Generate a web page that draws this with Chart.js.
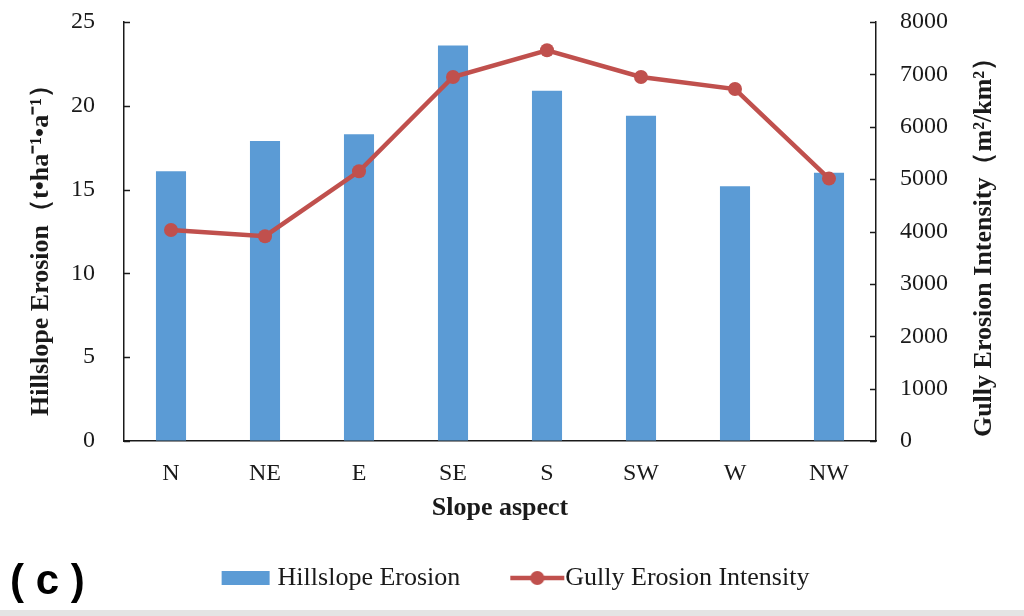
<!DOCTYPE html>
<html>
<head>
  <meta charset="UTF-8" />
  <title>Erosion by slope aspect</title>
  <script src="https://cdn.jsdelivr.net/npm/chart.js"></script>
  <style>
    html, body { margin: 0; padding: 0; background: #fff; }
    body { width: 1024px; height: 616px; position: relative; overflow: hidden; }
    .wrap { position: absolute; left: 0; top: 0; width: 1024px; height: 610px; }
    .panel { position: absolute; left: 10px; top: 556px; font: bold 42px "Liberation Sans", sans-serif; color: #000; }
    .strip { position: absolute; left: 0; top: 610px; width: 1024px; height: 6px; background: #e4e4e4; }
  </style>
</head>
<body>
  <div class="wrap"><canvas id="chart"></canvas></div>
  <div class="panel">( c )</div>
  <div class="strip"></div>

  <script>
    // values
    const aspects = ['N', 'NE', 'E', 'SE', 'S', 'SW', 'W', 'NW'];
    const hillslopeErosion = [16.1, 17.9, 18.3, 23.6, 20.9, 19.4, 15.2, 16.0];
    const gullyIntensity = [4030, 3910, 5150, 6950, 7460, 6950, 6720, 5010];
    const leftTicks = [0, 5, 10, 15, 20, 25];
    const rightTicks = [0, 1000, 2000, 3000, 4000, 5000, 6000, 7000, 8000];

    const BLUE = '#5B9BD5';
    const RED = '#C0504D';
    const SERIF = '"Liberation Serif", "Times New Roman", serif';
    const INK = '#1a1a1a';

    // legend symbols; the legend centres them on its box, so they sit in the right part of the canvas
    const swatch = (draw) => {
      const c = document.createElement('canvas');
      c.width = 108; c.height = 20;
      draw(c.getContext('2d'));
      return c;
    };
    const barSwatch = swatch(ctx => { ctx.fillStyle = BLUE; ctx.fillRect(52, 3, 48, 14); });
    const lineSwatch = swatch(ctx => {
      ctx.strokeStyle = RED; ctx.lineWidth = 4.5;
      ctx.beginPath(); ctx.moveTo(53, 10); ctx.lineTo(107, 10); ctx.stroke();
      ctx.fillStyle = RED;
      ctx.beginPath(); ctx.arc(80, 10, 7, 0, Math.PI * 2); ctx.fill();
    });

    // tick marks point into the plot; both axis titles read bottom-up
    const axisDecor = {
      id: 'axisDecor',
      afterDraw(chart) {
        const { ctx, chartArea } = chart;
        const y = chart.scales.y, y1 = chart.scales.y1;
        ctx.save();
        ctx.strokeStyle = INK;
        ctx.lineWidth = 1.5;
        y.ticks.forEach(t => {
          const p = Math.round(y.getPixelForValue(t.value)) + 0.5;
          ctx.beginPath(); ctx.moveTo(chartArea.left, p); ctx.lineTo(chartArea.left + 6, p); ctx.stroke();
        });
        y1.ticks.forEach(t => {
          const p = Math.round(y1.getPixelForValue(t.value)) + 0.5;
          ctx.beginPath(); ctx.moveTo(chartArea.right - 6, p); ctx.lineTo(chartArea.right, p); ctx.stroke();
        });
        ctx.fillStyle = INK;
        ctx.font = 'bold 26px ' + SERIF;
        ctx.textAlign = 'center';
        ctx.textBaseline = 'middle';
        const vtext = (text, x, yc) => {
          ctx.save();
          ctx.translate(x, yc);
          ctx.rotate(-Math.PI / 2);
          ctx.fillText(text, 0, 0);
          ctx.restore();
        };
        vtext('Hillslope Erosion（t•ha⁻¹•a⁻¹）', 41, 244);
        vtext('Gully Erosion Intensity（m²/km²）', 984, 241);
        ctx.restore();
      }
    };

    const tickFont = { family: SERIF, size: 24 };
    const titleFont = { family: SERIF, size: 26, weight: 'bold' };

    // the plot box is pinned: fixed side widths, and no extra room kept for the end labels
    const pinWidth = w => s => { s.width = w; s.paddingTop = 0; s.paddingBottom = 0; };

    new Chart(document.getElementById('chart'), {
      data: {
        labels: aspects,
        datasets: [
          {
            type: 'bar',
            label: 'Hillslope Erosion',
            data: hillslopeErosion,
            backgroundColor: BLUE,
            yAxisID: 'y',
            barPercentage: 0.32,
            categoryPercentage: 1,
            order: 1
          },
          {
            type: 'line',
            label: 'Gully Erosion Intensity',
            data: gullyIntensity,
            borderColor: RED,
            backgroundColor: RED,
            borderWidth: 4.5,
            pointRadius: 7,
            pointBackgroundColor: RED,
            pointBorderWidth: 0,
            tension: 0,
            yAxisID: 'y1',
            order: 0
          }
        ]
      },
      options: {
        responsive: true,
        maintainAspectRatio: false,
        animation: false,
        layout: { padding: { top: 22, bottom: 9, left: 0, right: 32 } },
        plugins: {
          tooltip: { enabled: false },
          legend: {
            position: 'bottom',
            labels: {
              usePointStyle: true,
              pointStyleWidth: 82,
              padding: 10,
              color: INK,
              font: { family: SERIF, size: 26 },
              sort: (a, b) => a.datasetIndex - b.datasetIndex,
              generateLabels: chart => Chart.defaults.plugins.legend.labels.generateLabels(chart)
                .map(l => ({ ...l, pointStyle: l.datasetIndex === 0 ? barSwatch : lineSwatch }))
            }
          }
        },
        scales: {
          x: {
            grid: { drawOnChartArea: false, drawTicks: false },
            border: { color: INK, width: 1.5 },
            ticks: { color: INK, font: tickFont, padding: 18 },
            title: { display: true, text: 'Slope aspect', color: INK, font: titleFont, padding: { top: 0, bottom: 31 } },
            afterFit: s => { s.height = 114; }
          },
          y: {
            position: 'left',
            min: 0, max: 25,
            afterBuildTicks: s => { s.ticks = leftTicks.map(v => ({ value: v })); },
            grid: { drawOnChartArea: false, drawTicks: false },
            border: { color: INK, width: 1.5 },
            ticks: { color: INK, font: tickFont, padding: 29 },
            afterFit: pinWidth(124)
          },
          y1: {
            position: 'right',
            min: 0, max: 8000,
            afterBuildTicks: s => { s.ticks = rightTicks.map(v => ({ value: v })); },
            grid: { drawOnChartArea: false, drawTicks: false },
            border: { color: INK, width: 1.5 },
            ticks: { color: INK, font: tickFont, padding: 24, callback: v => String(v) },
            afterFit: pinWidth(116)
          }
        }
      },
      plugins: [axisDecor]
    });
  </script>
</body>
</html>
